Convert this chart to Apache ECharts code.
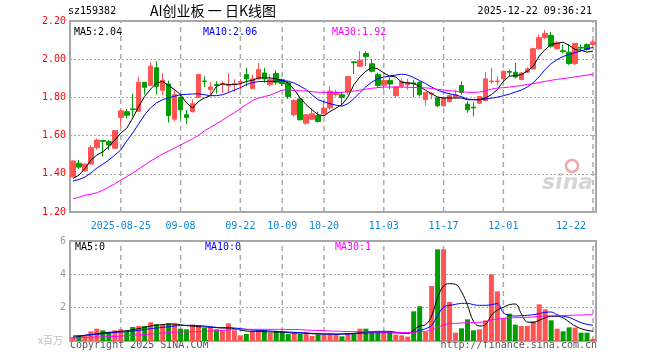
<!DOCTYPE html>
<html><head><meta charset="utf-8">
<script src="https://cdn.jsdelivr.net/npm/echarts@6/dist/echarts.min.js"></script>
<style>html,body{margin:0;padding:0;background:#fff}#c{width:660px;height:360px}</style>
</head><body><div id="c"></div>
<script>
const dates = ['2025-08-13','2025-08-14','2025-08-15','2025-08-18','2025-08-19','2025-08-20','2025-08-21','2025-08-22','2025-08-25','2025-08-26','2025-08-27','2025-08-28','2025-08-29',
'2025-09-01','2025-09-02','2025-09-03','2025-09-04','2025-09-05','2025-09-08','2025-09-09','2025-09-10','2025-09-11','2025-09-12','2025-09-15','2025-09-16','2025-09-17','2025-09-18','2025-09-19','2025-09-22','2025-09-23','2025-09-24','2025-09-25','2025-09-26','2025-09-29','2025-09-30',
'2025-10-09','2025-10-10','2025-10-13','2025-10-14','2025-10-15','2025-10-16','2025-10-17','2025-10-20','2025-10-21','2025-10-22','2025-10-23','2025-10-24','2025-10-27','2025-10-28','2025-10-29','2025-10-30','2025-10-31',
'2025-11-03','2025-11-04','2025-11-05','2025-11-06','2025-11-07','2025-11-10','2025-11-11','2025-11-12','2025-11-13','2025-11-14','2025-11-17','2025-11-18','2025-11-19','2025-11-20','2025-11-21','2025-11-24','2025-11-25','2025-11-26','2025-11-27','2025-11-28',
'2025-12-01','2025-12-02','2025-12-03','2025-12-04','2025-12-05','2025-12-08','2025-12-09','2025-12-10','2025-12-11','2025-12-12','2025-12-15','2025-12-16','2025-12-17','2025-12-18','2025-12-19','2025-12-22'];

const open = [1.384,1.455,1.416,1.451,1.537,1.574,1.568,1.534,1.695,1.725,
1.740,1.727,1.879,1.863,1.955,1.837,1.870,1.686,1.800,1.709,
1.726,1.800,1.886,1.842,1.868,1.868,1.861,1.868,1.878,1.919,
1.846,1.897,1.928,1.867,1.925,1.893,1.876,1.709,1.792,1.665,
1.686,1.704,1.714,1.745,1.815,1.814,1.828,1.986,1.963,2.030,
1.976,1.920,1.863,1.889,1.809,1.858,1.865,1.876,1.879,1.788,
1.817,1.797,1.756,1.777,1.802,1.862,1.765,1.749,1.770,1.784,
1.882,1.882,1.897,1.936,1.932,1.893,1.932,1.949,2.055,2.113,
2.125,2.055,2.044,2.037,1.977,2.062,2.077,2.077];
const close = [1.467,1.435,1.451,1.537,1.577,1.570,1.551,1.626,1.730,1.707,
1.736,1.879,1.853,1.963,1.858,1.890,1.705,1.814,1.735,1.695,
1.767,1.920,1.882,1.855,1.862,1.872,1.865,1.872,1.882,1.897,
1.897,1.946,1.897,1.893,1.879,1.872,1.805,1.784,1.683,1.709,
1.714,1.674,1.744,1.833,1.828,1.800,1.910,1.982,1.995,2.013,
1.937,1.863,1.889,1.870,1.855,1.884,1.879,1.872,1.814,1.826,
1.821,1.756,1.797,1.809,1.814,1.826,1.735,1.745,1.805,1.897,
1.886,1.886,1.937,1.932,1.907,1.928,1.949,2.055,2.113,2.135,
2.068,2.086,2.040,1.977,2.083,2.058,2.051,2.090];
const low = [1.380,1.425,1.412,1.448,1.526,1.490,1.525,1.530,1.648,1.690,
1.700,1.725,1.815,1.860,1.815,1.813,1.668,1.674,1.690,1.660,
1.720,1.800,1.855,1.814,1.820,1.823,1.823,1.830,1.840,1.858,
1.846,1.890,1.876,1.858,1.867,1.860,1.792,1.700,1.680,1.656,
1.683,1.668,1.710,1.735,1.805,1.760,1.814,1.923,1.960,1.963,
1.930,1.850,1.840,1.843,1.800,1.850,1.840,1.802,1.805,1.758,
1.790,1.750,1.750,1.775,1.792,1.814,1.720,1.700,1.765,1.780,
1.872,1.862,1.880,1.911,1.900,1.890,1.928,1.945,2.050,2.105,
2.060,2.050,2.030,1.970,1.970,2.045,2.045,2.070];
const high = [1.470,1.472,1.453,1.550,1.584,1.576,1.577,1.628,1.735,1.739,
1.820,1.910,1.880,1.984,1.990,1.928,1.888,1.840,1.820,1.735,
1.790,1.922,1.910,1.880,1.885,1.884,1.928,1.895,1.897,1.955,
1.920,1.980,1.955,1.920,1.942,1.900,1.884,1.790,1.800,1.712,
1.742,1.726,1.780,1.858,1.840,1.830,1.912,1.988,2.042,2.042,
2.000,1.930,1.900,1.905,1.860,1.900,1.897,1.893,1.884,1.828,
1.828,1.800,1.805,1.823,1.840,1.884,1.779,1.775,1.805,1.934,
1.955,1.910,1.940,1.946,1.981,1.932,1.958,2.060,2.130,2.153,
2.142,2.095,2.077,2.077,2.083,2.077,2.083,2.100];

const ma5 = [1.376,1.393,1.428,1.472,1.498,1.516,1.542,1.577,1.613,1.639,
1.692,1.753,1.805,1.844,1.876,1.884,1.862,1.841,1.814,1.771,
1.744,1.779,1.797,1.809,1.858,1.871,1.867,1.867,1.871,1.884,
1.889,1.902,1.902,1.902,1.897,1.889,1.876,1.841,1.797,1.762,
1.735,1.709,1.704,1.726,1.744,1.762,1.802,1.867,1.907,1.937,
1.958,1.949,1.928,1.911,1.907,1.879,1.876,1.872,1.858,1.837,
1.819,1.802,1.797,1.797,1.797,1.797,1.788,1.788,1.788,1.797,
1.814,1.841,1.884,1.911,1.914,1.919,1.937,1.963,2.016,2.051,
2.077,2.083,2.089,2.072,2.051,2.047,2.037,2.042];
const ma10 = [1.362,1.370,1.383,1.404,1.430,1.451,1.472,1.498,1.525,1.572,
1.614,1.662,1.709,1.746,1.772,1.788,1.798,1.806,1.814,1.816,
1.818,1.819,1.814,1.809,1.809,1.814,1.825,1.838,1.851,1.867,
1.877,1.883,1.884,1.884,1.884,1.888,1.885,1.875,1.859,1.841,
1.814,1.788,1.777,1.767,1.759,1.754,1.767,1.793,1.825,1.856,
1.880,1.898,1.906,1.912,1.917,1.922,1.917,1.904,1.888,1.872,
1.854,1.838,1.827,1.819,1.812,1.804,1.791,1.788,1.788,1.791,
1.796,1.801,1.809,1.817,1.828,1.838,1.854,1.877,1.909,1.946,
1.977,1.998,2.014,2.025,2.035,2.043,2.054,2.062];
const ma30 = [1.269,1.277,1.288,1.293,1.301,1.314,1.330,1.348,1.367,1.385,
1.404,1.425,1.446,1.467,1.485,1.504,1.519,1.535,1.551,1.567,
1.583,1.601,1.625,1.643,1.662,1.680,1.701,1.719,1.741,1.762,
1.783,1.796,1.804,1.812,1.825,1.838,1.841,1.835,1.835,1.833,
1.830,1.827,1.826,1.825,1.825,1.826,1.830,1.833,1.838,1.843,
1.848,1.851,1.854,1.854,1.854,1.854,1.853,1.852,1.851,1.850,
1.847,1.842,1.839,1.835,1.832,1.829,1.827,1.826,1.828,1.835,
1.843,1.849,1.851,1.854,1.858,1.862,1.867,1.872,1.878,1.884,
1.889,1.895,1.898,1.903,1.907,1.912,1.917,1.921];

const volume = [0.24,0.28,0.30,0.58,0.74,0.64,0.54,0.64,0.70,0.54,
0.84,0.90,0.90,1.12,1.00,0.98,1.06,1.04,0.74,0.70,
0.98,0.94,0.78,0.78,0.70,0.64,1.06,0.64,0.34,0.42,
0.58,0.64,0.66,0.48,0.60,0.50,0.42,0.48,0.42,0.50,
0.30,0.38,0.38,0.40,0.38,0.28,0.48,0.42,0.74,0.74,
0.54,0.54,0.54,0.54,0.38,0.34,0.26,1.78,2.08,0.54,
3.30,5.50,5.50,2.34,0.50,0.76,1.30,0.64,0.70,1.24,
4.00,2.98,1.38,1.64,0.98,0.90,0.90,1.18,2.20,1.90,
1.24,0.74,0.58,0.82,0.80,0.50,0.50,0.14];
const vma5 = [0.24,0.26,0.34,0.38,0.44,0.48,0.52,0.54,0.58,0.62,
0.68,0.74,0.82,0.90,0.96,0.98,1.02,1.02,0.98,0.92,
0.90,0.86,0.84,0.82,0.80,0.78,0.78,0.74,0.66,0.60,
0.58,0.58,0.56,0.54,0.54,0.52,0.50,0.48,0.48,0.46,
0.44,0.42,0.42,0.42,0.40,0.42,0.44,0.46,0.50,0.54,
0.56,0.58,0.58,0.58,0.52,0.48,0.44,0.66,0.90,0.98,
1.50,2.60,3.30,3.44,3.40,2.95,2.15,1.18,0.90,0.98,
1.54,1.86,2.02,2.18,2.22,1.64,1.14,1.12,1.24,1.40,
1.48,1.48,1.38,1.14,0.90,0.74,0.64,0.58];
const vma10 = [0.30,0.32,0.34,0.38,0.40,0.44,0.48,0.52,0.54,0.56,
0.60,0.64,0.68,0.74,0.78,0.82,0.86,0.90,0.92,0.94,
0.94,0.92,0.90,0.86,0.82,0.80,0.80,0.78,0.74,0.70,
0.66,0.64,0.62,0.60,0.58,0.56,0.54,0.52,0.50,0.48,
0.46,0.44,0.42,0.42,0.42,0.42,0.42,0.44,0.46,0.48,
0.50,0.50,0.50,0.50,0.48,0.48,0.48,0.54,0.64,0.74,
0.94,1.54,2.04,2.14,2.20,2.26,2.26,2.18,2.14,2.14,
2.18,2.24,1.70,1.54,1.50,1.52,1.54,1.58,1.64,1.72,
1.74,1.58,1.48,1.42,1.26,1.10,1.00,0.94];
const vma30 = [0.18,0.19,0.21,0.23,0.24,0.25,0.26,0.27,0.29,0.32,
0.35,0.37,0.39,0.42,0.45,0.48,0.51,0.53,0.54,0.55,
0.56,0.57,0.58,0.60,0.62,0.64,0.66,0.68,0.69,0.70,
0.70,0.70,0.70,0.70,0.70,0.70,0.69,0.69,0.68,0.66,
0.64,0.63,0.62,0.60,0.59,0.58,0.57,0.56,0.56,0.55,
0.55,0.54,0.54,0.53,0.52,0.51,0.50,0.52,0.56,0.58,
0.66,0.82,0.96,1.04,1.06,1.08,1.10,1.11,1.12,1.16,
1.26,1.32,1.36,1.39,1.40,1.41,1.42,1.44,1.48,1.50,
1.51,1.52,1.53,1.54,1.55,1.56,1.57,1.58];

const labelDates = ['2025-08-25','2025-09-08','2025-09-22','2025-10-09','2025-10-20','2025-11-03','2025-11-17','2025-12-01','2025-12-22'];
const priceTicks = {min:1.2, max:2.2, step:0.2};
const volTicks = {min:0, max:6, step:2};

const RED = '#ff5454', GREEN = '#009c00';
const MONO = "'DejaVu Sans Mono', monospace";
const labelSet = new Set(labelDates);
const lastLabel = labelDates[labelDates.length-1];
const candle = dates.map((d,i)=>[open[i],close[i],low[i],high[i]]);
const volData = volume.map((v,i)=>({value:v,itemStyle:{color: close[i]>=open[i]?RED:GREEN}}));
const line = (name,data,color,xi,yi,smooth)=>({name,type:'line',data,xAxisIndex:xi,yAxisIndex:yi,
  showSymbol:false,symbol:'none',smooth:smooth||false,lineStyle:{color,width:1},itemStyle:{color},z:3});

// vertical dashed lines at the labelled dates, drawn as ordinary 2-point line series
const dateLineSeries = [];
[[0, priceTicks], [1, volTicks]].forEach(([gi, t]) => {
  labelDates.forEach(d => {
    const idx = dates.indexOf(d);
    dateLineSeries.push({type:'line', xAxisIndex:gi, yAxisIndex:gi, silent:true, z:1,
      showSymbol:false, symbol:'none', data:[[idx, t.min], [idx, t.max]],
      lineStyle:{color:'#aaaaaa', width:1.5, type:[5,4]}, itemStyle:{color:'#aaaaaa'}});
  });
});

const chart = echarts.init(document.getElementById('c'));
chart.setOption({
  animation:false,
  backgroundColor:'#fff',
  grid:[
    {left:70,right:64,top:21,height:191,show:true,borderColor:'#a6a6a6',borderWidth:2},
    {left:70,right:64,top:241,height:100,show:true,borderColor:'#a6a6a6',borderWidth:2}
  ],
  xAxis:[
    {type:'category',gridIndex:0,data:dates,boundaryGap:true,axisLine:{show:false},axisTick:{show:false},splitLine:{show:false},
     axisLabel:{interval:(i,v)=>labelSet.has(v),
       formatter:v=>v===labelDates[0]?v:(v===lastLabel?'{r|'+v.slice(5)+'}':v.slice(5)),
       rich:{r:{padding:[0,44,0,0],color:'#0b86d6',fontFamily:MONO,fontSize:10}},
       color:'#0b86d6',fontFamily:MONO,fontSize:10,margin:9}},
    {type:'category',gridIndex:1,data:dates,boundaryGap:true,axisLine:{show:false},axisTick:{show:false},splitLine:{show:false},axisLabel:{show:false}}
  ],
  yAxis:[
    {type:'value',gridIndex:0,min:priceTicks.min,max:priceTicks.max,interval:priceTicks.step,axisLine:{show:false},axisTick:{show:false},
     axisLabel:{color:'#ff0000',fontFamily:MONO,fontSize:10,margin:4,formatter:v=>v.toFixed(2)},
     splitLine:{lineStyle:{color:'#aaaaaa',type:[2,2],width:1}}},
    {type:'value',gridIndex:1,min:volTicks.min,max:volTicks.max,interval:volTicks.step,axisLine:{show:false},axisTick:{show:false},
     axisLabel:{color:'#999',fontFamily:MONO,fontSize:10,margin:4,formatter:v=>v===0?'':String(v)},
     splitLine:{lineStyle:{color:'#aaaaaa',type:[2,2],width:1}}}
  ],
  series:dateLineSeries.concat([
    {type:'candlestick',data:candle,xAxisIndex:0,yAxisIndex:0,barWidth:5,
     itemStyle:{color:RED,color0:GREEN,borderColor:RED,borderColor0:GREEN,borderWidth:1},z:2},
    line('MA5',ma5,'#000000',0,0),
    line('MA10',ma10,'#0000ff',0,0),
    line('MA30',ma30,'#ff00ff',0,0),
    {type:'bar',data:volData,xAxisIndex:1,yAxisIndex:1,barWidth:5,z:2},
    line('VMA5',vma5,'#000000',1,1,0.4),
    line('VMA10',vma10,'#0000ff',1,1,0.4),
    line('VMA30',vma30,'#ff00ff',1,1,0.4)
  ]),
  graphic:[
    {type:'text',left:68,top:6,style:{text:'sz159382',font:"10px "+MONO,fill:'#000'}},
    {type:'text',left:150,top:4,style:{text:'AI创业板 一 日K线图',font:"14px 'Noto Sans CJK SC'",fill:'#000'}},
    {type:'text',right:68,top:6,style:{text:'2025-12-22 09:36:21',font:"10px "+MONO,fill:'#000'}},
    {type:'text',left:74,top:27,style:{text:'MA5:2.04',font:"10px "+MONO,fill:'#000'}},
    {type:'text',left:203,top:27,style:{text:'MA10:2.06',font:"10px "+MONO,fill:'#0000ff'}},
    {type:'text',left:332,top:27,style:{text:'MA30:1.92',font:"10px "+MONO,fill:'#ff00ff'}},
    {type:'text',left:75,top:242,style:{text:'MA5:0',font:"10px "+MONO,fill:'#000'}},
    {type:'text',left:205,top:242,style:{text:'MA10:0',font:"10px "+MONO,fill:'#0000ff'}},
    {type:'text',left:335,top:242,style:{text:'MA30:1',font:"10px "+MONO,fill:'#ff00ff'}},
    {type:'text',left:38,top:335,style:{text:'x百万',font:"10px 'Noto Sans CJK SC'",fill:'#c0c0c0'}},
    {type:'text',left:70,top:340,style:{text:'Copyright 2025 SINA.COM',font:"10px "+MONO,fill:'#555'}},
    {type:'text',right:63,top:340,style:{text:'http://finance.sina.com.cn',font:"10px "+MONO,fill:'#555'}},
    {type:'circle',shape:{cx:572,cy:166,r:6},style:{fill:'none',stroke:'#f2a8a8',lineWidth:2.5}},
    {type:'text',left:542,top:172,style:{text:'sina',font:"italic bold 22px 'DejaVu Sans'",fill:'#d6d6d6'}}
  ]
});
</script></body></html>
